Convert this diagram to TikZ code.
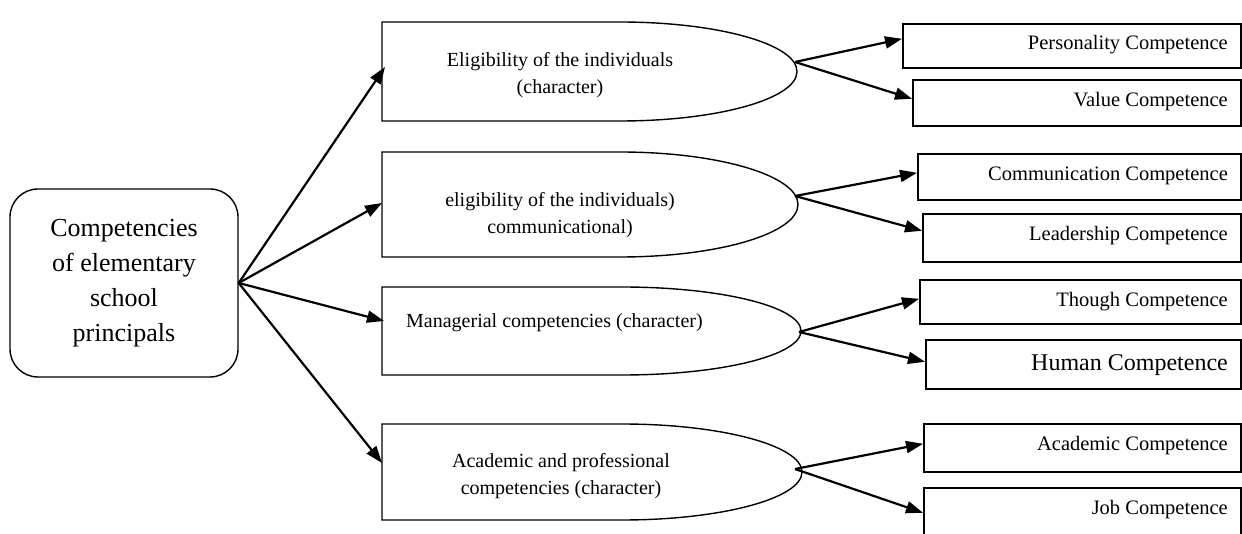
\documentclass[tikz,border=0pt]{standalone}
\usepackage{fontspec}
\setmainfont{Liberation Serif}
\usetikzlibrary{arrows.meta}
\begin{document}
\begin{tikzpicture}[x=1pt,y=-1pt,
  shapeline/.style={draw=black,line width=1.4pt},
  conn/.style={line width=2.2pt,-{Triangle[length=17pt,width=12pt]}},
  compbox/.style={draw=black,line width=1.6pt,anchor=north west,inner sep=0pt,
    minimum width=338pt,minimum height=44pt},
  boxtxt/.style={anchor=east,inner sep=0pt,font=\fontsize{20.5}{24}\selectfont},
  midtxt/.style={align=center,inner sep=0pt,font=\fontsize{20}{27}\selectfont}]
\useasboundingbox (0,0) rectangle (1242,534);
\clip (0,0) rectangle (1242,534);
\fill[white] (0,0) rectangle (1242,534);

% root
\node[draw=black,line width=1.4pt,rounded corners=28pt,minimum width=228pt,minimum height=188pt,
  align=center,inner sep=0pt,font=\fontsize{26}{35}\selectfont] (root) at (124,283)
  {Competencies\\of elementary\\school\\principals};

% half-rectangle / half-ellipse shapes
\draw[shapeline] (382,22) -- (620,22) .. controls (718,22) and (797,44.2) .. (797,71.5)
  .. controls (797,98.8) and (718,121) .. (620,121) -- (382,121) -- cycle;
\draw[shapeline] (382,152) -- (620,152) .. controls (718,152) and (798,175.5) .. (798,204.5)
  .. controls (798,233.5) and (718,257) .. (620,257) -- (382,257) -- cycle;
\draw[shapeline] (382,287) -- (622,287) .. controls (721,287) and (801,306.7) .. (801,331)
  .. controls (801,355.3) and (721,375) .. (622,375) -- (382,375) -- cycle;
\draw[shapeline] (382,424) -- (622,424) .. controls (721,424) and (802,445.5) .. (802,472)
  .. controls (802,498.5) and (721,520) .. (622,520) -- (382,520) -- cycle;

\node[midtxt] (t1) at (560,75) {Eligibility of the individuals\\(character)};
\node[midtxt] (t2) at (560,215) {eligibility of the individuals)\\communicational)};
\node[midtxt,anchor=west] (t3) at (406,323) {Managerial competencies (character)};
\node[midtxt] (t4) at (561,476) {Academic and professional\\competencies (character)};

% entry points and tips
\coordinate (in1) at (385,67);
\coordinate (in2) at (382,203);
\coordinate (in3) at (384,321);
\coordinate (in4) at (382,463);
\coordinate (tip1) at (795,62);
\coordinate (tip2) at (795,196);
\coordinate (tip3) at (799,332);
\coordinate (tip4) at (795,469);

% competence boxes
\node[compbox] (p) at (902,23) {};
\node[compbox,minimum width=328pt,minimum height=46pt] (v) at (912,79) {};
\node[compbox,minimum width=323pt,minimum height=46pt] (c) at (917,153) {};
\node[compbox,minimum width=318pt,minimum height=48pt] (l) at (922,213) {};
\node[compbox,minimum width=321pt,minimum height=44pt] (th) at (919,279) {};
\node[compbox,minimum width=315pt,minimum height=49pt] (h) at (925,339) {};
\node[compbox,minimum width=317pt,minimum height=48pt] (a) at (923,423) {};
\node[compbox,minimum width=317pt,minimum height=80pt] (j) at (923,487) {};

\node[boxtxt] (pt) at (1228,45) {Personality Competence};
\node[boxtxt] (vt) at (1228,102) {Value Competence};
\node[boxtxt] (ct) at (1228,176) {Communication Competence};
\node[boxtxt] (lt) at (1228,236) {Leadership Competence};
\node[boxtxt] (tht) at (1228,302) {Though Competence};
\node[boxtxt,font=\fontsize{24}{28}\selectfont] (ht) at (1228,365) {Human Competence};
\node[boxtxt] (at) at (1228,446) {Academic Competence};
\node[boxtxt] (jt) at (1228,510) {Job Competence};

% connectors from root
\foreach \k in {in1,in2,in3,in4} \draw[conn] (root.east) -- (\k);

% connectors to boxes
\draw[conn] (tip1) -- ([yshift=7pt]p.west);
\draw[conn] (tip1) -- ([yshift=4pt]v.west);
\draw[conn] (tip2) -- ([yshift=4pt]c.west);
\draw[conn] (tip2) -- ([yshift=7pt]l.west);
\draw[conn] (tip3) -- ([yshift=3pt]th.west);
\draw[conn] (tip3) -- ([yshift=2.5pt]h.west);
\draw[conn] (tip4) -- ([yshift=4pt]a.west);
\draw[conn] (tip4) -- ([yshift=15pt]j.west);
\end{tikzpicture}
\end{document}
